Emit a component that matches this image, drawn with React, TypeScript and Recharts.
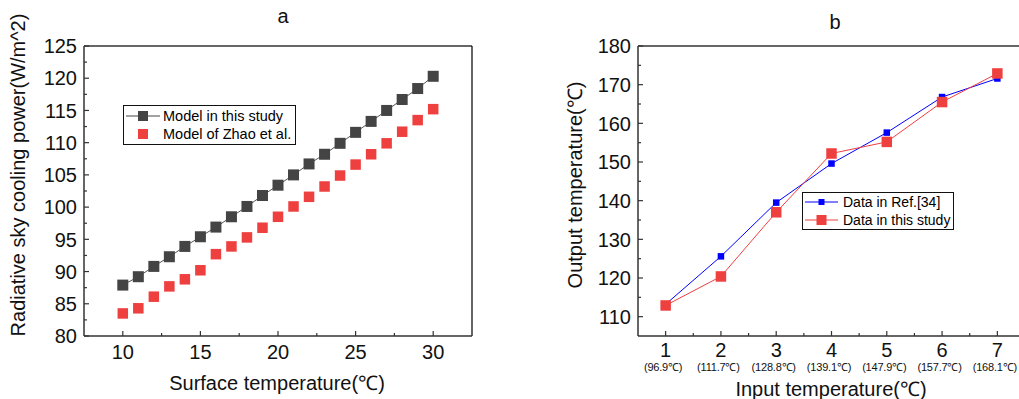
import React from 'react'
import { ComposedChart, Line, XAxis, YAxis, Legend, ReferenceLine } from 'recharts'

// panel a
const surfaceTemps = [10, 11, 12, 13, 14, 15, 16, 17, 18, 19, 20, 21, 22, 23, 24, 25, 26, 27, 28, 29, 30]
const modelThisStudy = [87.9, 89.2, 90.8, 92.3, 93.9, 95.4, 96.9, 98.5, 100.1, 101.8, 103.4, 105.0, 106.7, 108.2, 109.9, 111.6, 113.3, 115.0, 116.7, 118.4, 120.3]
const modelZhao = [83.5, 84.3, 86.1, 87.7, 88.8, 90.2, 92.7, 93.9, 95.3, 96.8, 98.5, 100.1, 101.6, 103.2, 104.9, 106.6, 108.2, 109.9, 111.7, 113.5, 115.2]
const aXTicks = [10, 12.5, 15, 17.5, 20, 22.5, 25, 27.5, 30]
const aYTicks = [80, 82.5, 85, 87.5, 90, 92.5, 95, 97.5, 100, 102.5, 105, 107.5, 110, 112.5, 115, 117.5, 120, 122.5, 125]

// panel b
const inputIndex = [1, 2, 3, 4, 5, 6, 7]
const inputTempLabels = ['(96.9℃)', '(111.7℃)', '(128.8℃)', '(139.1℃)', '(147.9℃)', '(157.7℃)', '(168.1℃)']
const refData = [113.2, 125.6, 139.5, 149.6, 157.6, 166.8, 171.6]
const thisStudyData = [112.9, 120.4, 137.0, 152.2, 155.2, 165.5, 172.9]
const bXTicks = [1, 1.5, 2, 2.5, 3, 3.5, 4, 4.5, 5, 5.5, 6, 6.5, 7]
const bYTicks = [110, 115, 120, 125, 130, 135, 140, 145, 150, 155, 160, 165, 170, 175, 180]

const FONT = '"Liberation Sans", Arial, sans-serif'
const AXIS = '#333'
const GRAY = '#444444'
const RED = '#ef4040'
const BLUE = '#0000ff'
const TICK_MARGIN = 7

const panelA = surfaceTemps.map((t, i) => ({ t, model: modelThisStudy[i], zhao: modelZhao[i] }))
const panelB = inputIndex.map((n, i) => ({ n, ref: refData[i], study: thisStudyData[i] }))

const square = (size: number, fill: string) => (p: any) => (
  <rect
    key={p.key ?? p.index}
    x={p.cx - size / 2}
    y={p.cy - size / 2}
    width={size}
    height={size}
    fill={fill}
  />
)

const makeYTick = (majorStep: number) => (props: any) => {
  const { x, y, payload } = props
  const major = payload.value % majorStep === 0
  const ax = x + TICK_MARGIN
  return (
    <g>
      <line x1={ax} x2={ax + (major ? 5 : 3)} y1={y} y2={y} stroke={AXIS} strokeWidth={1.2} />
      {major && (
        <text x={x} y={y} dy="0.36em" textAnchor="end" fontSize={20} fill="#111" fontFamily={FONT}>
          {payload.value}
        </text>
      )}
    </g>
  )
}

const makeXTick = (majorStep: number, subLabels?: string[]) => (props: any) => {
  const { x, y, payload } = props
  const major = payload.value % majorStep === 0
  const ay = y - TICK_MARGIN
  const numOffset = subLabels ? 14 : 16
  return (
    <g>
      <line x1={x} x2={x} y1={ay} y2={ay - (major ? 5 : 3)} stroke={AXIS} strokeWidth={1.2} />
      {major && (
        <text x={x} y={ay + numOffset} dy="0.36em" textAnchor="middle" fontSize={20} fill="#111" fontFamily={FONT}>
          {payload.value}
        </text>
      )}
      {major && subLabels && (
        <text x={x - 2.5} y={ay + 31} dy="0.36em" textAnchor="middle" fontSize={11} letterSpacing={-0.2} fill="#111" fontFamily={FONT}>
          {subLabels[payload.value - 1]}
        </text>
      )}
    </g>
  )
}

function LegendA() {
  const rows = [
    { name: 'Model in this study', color: GRAY, line: true },
    { name: 'Model of Zhao et al.', color: RED, line: false },
  ]
  return (
    <div style={{ border: '1px solid #111', background: '#fff', padding: '1px 4px 1px 2px', fontFamily: FONT, fontSize: 14.5, lineHeight: '18px' }}>
      {rows.map((r) => (
        <div key={r.name} style={{ display: 'flex', alignItems: 'center', whiteSpace: 'nowrap' }}>
          <svg width={36} height={18}>
            {r.line && <line x1={0} x2={34} y1={9} y2={9} stroke={GRAY} strokeWidth={1} />}
            <rect x={12} y={4} width={10} height={10} fill={r.color} />
          </svg>
          <span style={{ marginLeft: 1 }}>{r.name}</span>
        </div>
      ))}
    </div>
  )
}

function LegendB() {
  const rows = [
    { name: 'Data in Ref.[34]', color: BLUE, size: 6 },
    { name: 'Data in this study', color: RED, size: 10 },
  ]
  return (
    <div style={{ border: '1px solid #111', background: '#fff', padding: '0px 3px 0px 2px', fontFamily: FONT, fontSize: 14, lineHeight: '18px' }}>
      {rows.map((r) => (
        <div key={r.name} style={{ display: 'flex', alignItems: 'center', whiteSpace: 'nowrap' }}>
          <svg width={36} height={18}>
            <line x1={0} x2={33} y1={9} y2={9} stroke={r.color} strokeWidth={1} />
            <rect x={16.5 - r.size / 2} y={9 - r.size / 2} width={r.size} height={r.size} fill={r.color} />
          </svg>
          <span style={{ marginLeft: 2 }}>{r.name}</span>
        </div>
      ))}
    </div>
  )
}

const textStyle: React.CSSProperties = {
  position: 'absolute',
  fontFamily: FONT,
  fontSize: 20,
  color: '#111',
  whiteSpace: 'nowrap',
  lineHeight: 1,
}

export default function App() {
  return (
    <div style={{ position: 'absolute', left: 0, top: 0, width: 1019, height: 399, overflow: 'hidden', background: '#fff' }}>
      {/* panel a */}
      <div style={{ position: 'absolute', left: 0, top: 0 }}>
        <ComposedChart width={500} height={399} data={panelA} margin={{ top: 46, right: 28, bottom: 33, left: 34 }}>
          <XAxis
            dataKey="t"
            type="number"
            domain={[7.5, 32.5]}
            ticks={aXTicks}
            interval={0}
            height={30}
            tickSize={0}
            tickMargin={TICK_MARGIN}
            tick={makeXTick(5)}
            axisLine={{ stroke: AXIS, strokeWidth: 1.5 }}
          />
          <YAxis
            type="number"
            domain={[80, 125]}
            ticks={aYTicks}
            interval={0}
            width={50}
            tickSize={0}
            tickMargin={TICK_MARGIN}
            tick={makeYTick(5)}
            axisLine={{ stroke: AXIS, strokeWidth: 1.5 }}
          />
          <ReferenceLine y={125} stroke={AXIS} strokeWidth={1.5} />
          <ReferenceLine x={32.5} stroke="#111" strokeWidth={1.3} />
          <Line
            dataKey="model"
            name="Model in this study"
            stroke="#555"
            strokeWidth={1}
            dot={square(11, GRAY)}
            isAnimationActive={false}
          />
          <Line
            dataKey="zhao"
            name="Model of Zhao et al."
            stroke="none"
            dot={square(10.5, RED)}
            isAnimationActive={false}
          />
          <Legend
            layout="horizontal"
            verticalAlign="middle"
            align="center"
            content={() => <LegendA />}
            wrapperStyle={{ position: 'absolute', left: 123, top: 105, width: 'auto', height: 'auto' }}
          />
        </ComposedChart>
        <div style={{ ...textStyle, left: 283, top: 16, transform: 'translate(-50%, -50%)' }}>a</div>
        <div style={{ ...textStyle, left: 277, top: 383, transform: 'translate(-50%, -50%)' }}>Surface temperature(℃)</div>
        <div style={{ ...textStyle, left: 18, top: 175, transform: 'translate(-50%, -50%) rotate(-90deg)' }}>
          Radiative sky cooling power(W/m^2)
        </div>
      </div>

      {/* panel b */}
      <div style={{ position: 'absolute', left: 540, top: 0 }}>
        <ComposedChart width={500} height={399} data={panelB} margin={{ top: 46, right: 15, bottom: 23, left: 48 }}>
          <XAxis
            dataKey="n"
            type="number"
            domain={[0.5, 7.5]}
            ticks={bXTicks}
            interval={0}
            height={40}
            tickSize={0}
            tickMargin={TICK_MARGIN}
            tick={makeXTick(1, inputTempLabels)}
            axisLine={{ stroke: AXIS, strokeWidth: 1.5 }}
          />
          <YAxis
            type="number"
            domain={[105, 180]}
            ticks={bYTicks}
            interval={0}
            width={50}
            tickSize={0}
            tickMargin={TICK_MARGIN}
            tick={makeYTick(10)}
            axisLine={{ stroke: AXIS, strokeWidth: 1.5 }}
          />
          <ReferenceLine y={180} stroke={AXIS} strokeWidth={1.5} />
          <ReferenceLine x={7.5} stroke="#111" strokeWidth={1.3} />
          <Line
            dataKey="ref"
            name="Data in Ref.[34]"
            stroke={BLUE}
            strokeWidth={1}
            dot={square(6.5, BLUE)}
            isAnimationActive={false}
          />
          <Line
            dataKey="study"
            name="Data in this study"
            stroke={RED}
            strokeWidth={1}
            dot={square(10.5, RED)}
            isAnimationActive={false}
          />
          <Legend
            layout="horizontal"
            verticalAlign="middle"
            align="center"
            content={() => <LegendB />}
            wrapperStyle={{ position: 'absolute', left: 262, top: 192, width: 'auto', height: 'auto' }}
          />
        </ComposedChart>
        <div style={{ ...textStyle, left: 295, top: 22, transform: 'translate(-50%, -50%)' }}>b</div>
        <div style={{ ...textStyle, left: 291, top: 389, transform: 'translate(-50%, -50%)' }}>Input temperature(℃)</div>
        <div style={{ ...textStyle, left: 35, top: 185, transform: 'translate(-50%, -50%) rotate(-90deg)' }}>
          Output temperature(℃)
        </div>
      </div>
    </div>
  )
}
